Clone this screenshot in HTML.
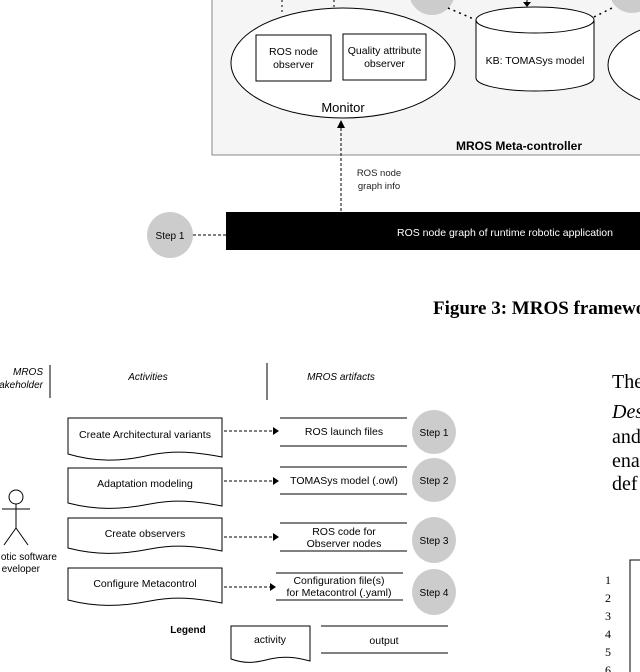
<!DOCTYPE html>
<html><head><meta charset="utf-8"><style>
body{margin:0;background:#fff}
svg{display:block}
text{font-family:"Liberation Sans",sans-serif}
text.s{font-family:"Liberation Serif",serif}
</style></head><body>
<svg width="640" height="672" viewBox="0 0 640 672" xmlns="http://www.w3.org/2000/svg">
<rect x="212" y="-5" width="440" height="160" fill="#f5f5f5" stroke="#888" stroke-width="1"/>
<circle cx="432" cy="-8" r="23" fill="#ccc"/>
<circle cx="632" cy="-10" r="23" fill="#ccc"/>
<line x1="282" y1="0" x2="282" y2="15" stroke="#000" stroke-dasharray="2,3"/>
<line x1="334" y1="0" x2="334" y2="10" stroke="#000" stroke-dasharray="2,3"/>
<line x1="448" y1="8" x2="476" y2="20" stroke="#000" stroke-width="1.5" stroke-dasharray="2,4"/>
<line x1="594" y1="17" x2="612" y2="8" stroke="#000" stroke-width="1.5" stroke-dasharray="2,4"/>
<ellipse cx="343" cy="63" rx="112" ry="55" fill="#fff" stroke="#000"/>
<rect x="256" y="35" width="75" height="46" fill="#fff" stroke="#000"/>
<rect x="343" y="34" width="83" height="46" fill="#fff" stroke="#000"/>
<text x="293.5" y="55" font-size="10.5" text-anchor="middle">ROS node</text>
<text x="293.5" y="68" font-size="10.5" text-anchor="middle">observer</text>
<text x="384.5" y="54" font-size="10.5" text-anchor="middle">Quality attribute</text>
<text x="384.5" y="67" font-size="10.5" text-anchor="middle">observer</text>
<text x="343" y="112" font-size="13" text-anchor="middle">Monitor</text>
<path d="M476,20 V78 A59,13 0 0 0 594,78 V20" fill="#fff" stroke="#000"/>
<ellipse cx="535" cy="20" rx="59" ry="13" fill="#fff" stroke="#000"/>
<line x1="527" y1="0" x2="527" y2="4" stroke="#000"/>
<path d="M523,2 L531,2 L527,7 Z" fill="#000"/>
<text x="535" y="64" font-size="10.5" text-anchor="middle">KB: TOMASys model</text>
<ellipse cx="700" cy="65" rx="92" ry="46" fill="#fff" stroke="#000"/>
<text x="519" y="150" font-size="12" font-weight="bold" text-anchor="middle">MROS Meta-controller</text>
<line x1="341" y1="211" x2="341" y2="128" stroke="#000" stroke-dasharray="3,2"/>
<path d="M337,128 L345,128 L341,120 Z" fill="#000"/>
<text x="379" y="176" font-size="9.5" text-anchor="middle" fill="#222">ROS node</text>
<text x="379" y="189" font-size="9.5" text-anchor="middle" fill="#222">graph info</text>
<rect x="226" y="212" width="420" height="38" fill="#000"/>
<text x="505" y="236" font-size="10.5" text-anchor="middle" fill="#fff">ROS node graph of runtime robotic application</text>
<ellipse cx="170" cy="235" rx="23" ry="23" fill="#ccc"/>
<text x="170" y="239" font-size="10" text-anchor="middle">Step 1</text>
<line x1="193" y1="235" x2="226" y2="235" stroke="#000" stroke-dasharray="3,2"/>
<text class="s" x="433" y="314" font-size="19" font-weight="bold">Figure 3: MROS framework</text>

<text x="43" y="375" font-size="10" font-style="italic" text-anchor="end">MROS</text>
<text x="43" y="388" font-size="10" font-style="italic" text-anchor="end">stakeholder</text>
<line x1="50" y1="365" x2="50" y2="398" stroke="#000"/>
<text x="148" y="380" font-size="10" font-style="italic" text-anchor="middle">Activities</text>
<line x1="267" y1="363" x2="267" y2="400" stroke="#000"/>
<text x="341" y="380" font-size="10" font-style="italic" text-anchor="middle">MROS artifacts</text>

<g fill="#fff" stroke="#000">
<path d="M68,418 H222 V457 C195,452 175,450 150,455 C120,462 95,462 68,454 Z"/>
<path d="M68,468 H222 V506 C195,501 175,499 150,504 C120,510 95,510 68,503 Z"/>
<path d="M68,518 H222 V551 C195,546 175,544 150,549 C120,555 95,555 68,548 Z"/>
<path d="M68,568 H222 V603 C195,598 175,596 150,601 C120,607 95,607 68,600 Z"/>
<path d="M231,626 H310 V661 C295,657 285,656 270,659 C255,663 245,664 231,659 Z"/>
</g>
<g font-size="10.5" text-anchor="middle">
<text x="145" y="438">Create Architectural variants</text>
<text x="145" y="487">Adaptation modeling</text>
<text x="145" y="537">Create observers</text>
<text x="145" y="587">Configure Metacontrol</text>
<text x="270" y="643">activity</text>
</g>
<g stroke="#000" stroke-dasharray="3,2">
<line x1="224" y1="431" x2="273" y2="431"/>
<line x1="224" y1="481" x2="273" y2="481"/>
<line x1="224" y1="537" x2="273" y2="537"/>
<line x1="224" y1="587" x2="270" y2="587"/>
</g>
<g fill="#000">
<path d="M273,427 L279,431 L273,435 Z"/>
<path d="M273,477 L279,481 L273,485 Z"/>
<path d="M273,533 L279,537 L273,541 Z"/>
<path d="M270,583 L276,587 L270,591 Z"/>
</g>
<g stroke="#000">
<line x1="280" y1="418" x2="407" y2="418"/><line x1="280" y1="446" x2="407" y2="446"/>
<line x1="280" y1="467" x2="407" y2="467"/><line x1="280" y1="494" x2="407" y2="494"/>
<line x1="280" y1="523" x2="407" y2="523"/><line x1="280" y1="551" x2="407" y2="551"/>
<line x1="276" y1="573" x2="403" y2="573"/><line x1="276" y1="600" x2="403" y2="600"/>
<line x1="321" y1="626" x2="448" y2="626"/><line x1="321" y1="653" x2="448" y2="653"/>
</g>
<g font-size="10.5" text-anchor="middle">
<text x="344" y="435">ROS launch files</text>
<text x="344" y="484">TOMASys model (.owl)</text>
<text x="344" y="535">ROS code for</text>
<text x="344" y="547">Observer nodes</text>
<text x="339" y="584">Configuration file(s)</text>
<text x="339" y="596">for Metacontrol (.yaml)</text>
<text x="384" y="644">output</text>
</g>
<g fill="#ccc">
<ellipse cx="434" cy="432" rx="22" ry="22"/>
<ellipse cx="434" cy="480" rx="22" ry="22"/>
<ellipse cx="434" cy="540" rx="22" ry="23"/>
<ellipse cx="434" cy="592" rx="22" ry="23"/>
</g>
<g font-size="10" text-anchor="middle">
<text x="434" y="436">Step 1</text>
<text x="434" y="484">Step 2</text>
<text x="434" y="544">Step 3</text>
<text x="434" y="596">Step 4</text>
</g>
<text x="188" y="633" font-size="10" font-weight="bold" text-anchor="middle">Legend</text>
<g stroke="#000" fill="none">
<circle cx="16" cy="497" r="7"/>
<line x1="16" y1="504" x2="16" y2="528"/>
<line x1="2" y1="509" x2="30" y2="509"/>
<line x1="16" y1="528" x2="4" y2="545"/>
<line x1="16" y1="528" x2="28" y2="545"/>
</g>
<text x="57" y="560" font-size="10" text-anchor="end">otic software</text>
<text x="40" y="572" font-size="10" text-anchor="end">eveloper</text>
<g font-size="20">
<text class="s" x="612" y="388">The</text>
<text class="s" x="612" y="418" font-style="italic">Des</text>
<text class="s" x="612" y="443">and</text>
<text class="s" x="612" y="467">ena</text>
<text class="s" x="612" y="490">def</text>
</g>
<rect x="630" y="560" width="20" height="120" fill="#fff" stroke="#000"/>
<g font-size="12" text-anchor="middle">
<text class="s" x="608" y="584">1</text><text class="s" x="608" y="602">2</text><text class="s" x="608" y="620">3</text>
<text class="s" x="608" y="638">4</text><text class="s" x="608" y="656">5</text><text class="s" x="608" y="674">6</text>
</g>
</svg>
</body></html>
